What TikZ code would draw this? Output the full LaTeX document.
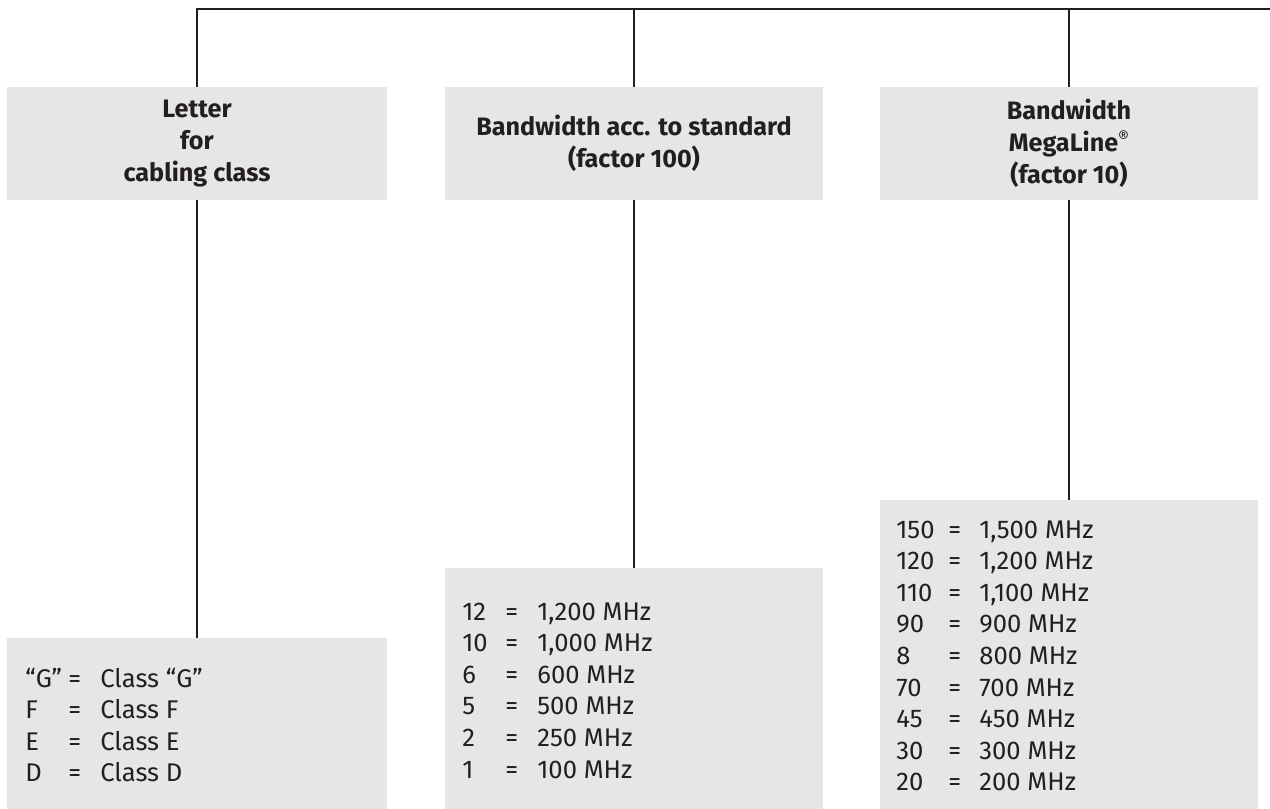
\documentclass[tikz,border=0pt]{standalone}
\usepackage{fontspec}
\setmainfont{Fira Sans}
\usepackage{xcolor}
\usetikzlibrary{positioning}
\definecolor{boxgray}{HTML}{E6E6E6}
\definecolor{inkgray}{HTML}{231F20}
\newcommand{\listfont}{\fontsize{12.8}{15.8}\selectfont}
\newcommand{\regmark}{\raisebox{0.62ex}{\fontsize{8.5}{8.5}\selectfont\mdseries ®}}

\begin{document}
\begin{tikzpicture}[x=0.5pt,y=-0.5pt,
  head/.style={fill=boxgray,minimum width=190pt,minimum height=56.5pt,align=center,inner sep=0pt,
    text=inkgray,font=\bfseries\fontsize{12.6}{16}\selectfont},
  panel/.style={fill=boxgray,minimum width=190pt,inner sep=0pt},
  entries/.style={anchor=base west,inner sep=0pt,text=inkgray,font=\listfont},
  wire/.style={draw=inkgray,line width=0.9pt}]
\useasboundingbox (0,0) rectangle (1270,809);
\node[head] (h1) at (197,143.5) {Letter\\for\\cabling class};
\node[head,minimum width=189pt] (h2) at (634,143.5) {Bandwidth acc. to standard\\(factor 100)};
\node[head,minimum width=189pt] (h3) at (1069,143.5) {Bandwidth\\MegaLine\regmark\\(factor 10)};
\node[panel,minimum height=85.5pt] (l1) at (197,723.5) {};
\node[panel,minimum width=189pt,minimum height=120.5pt] (l2) at (634,688.5) {};
\node[panel,minimum width=189pt,minimum height=154.5pt] (l3) at (1069,654.5) {};
\node[entries] (t1) at (25,687) {\begin{tabular}[t]{@{}p{21.5pt}@{}p{16pt}@{}l@{}}
  “G”&=&Class “G”\\ F&=&Class F\\ E&=&Class E\\ D&=&Class D
\end{tabular}};
\node[entries] (t2) at (462,620) {\begin{tabular}[t]{@{}p{21.5pt}@{}p{16pt}@{}l@{}}
  12&=&1,200 MHz\\ 10&=&1,000 MHz\\ 6&=&600 MHz\\ 5&=&500 MHz\\ 2&=&250 MHz\\ 1&=&100 MHz
\end{tabular}};
\node[entries] (t3) at (896,538) {\begin{tabular}[t]{@{}p{26pt}@{}p{15.5pt}@{}l@{}}
  150&=&1,500 MHz\\ 120&=&1,200 MHz\\ 110&=&1,100 MHz\\ 90&=&900 MHz\\ 8&=&800 MHz\\
  70&=&700 MHz\\ 45&=&450 MHz\\ 30&=&300 MHz\\ 20&=&200 MHz
\end{tabular}};
\coordinate (topend) at (1270,9);
\draw[wire] (h1.north) |- (topend);
\draw[wire] (h2.north) -- (h2.north |- topend);
\draw[wire] (h3.north) -- (h3.north |- topend);
\draw[wire] (h1.south) -- (l1.north);
\draw[wire] (h2.south) -- (l2.north);
\draw[wire] (h3.south) -- (l3.north);
\end{tikzpicture}
\end{document}
